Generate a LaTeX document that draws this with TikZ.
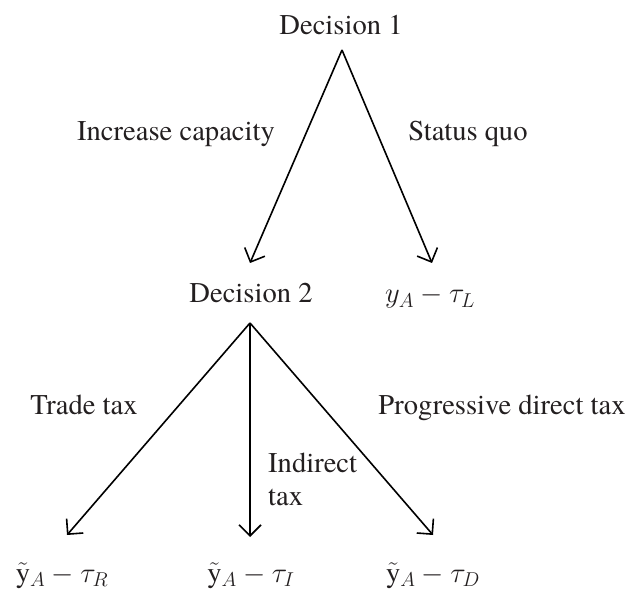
\RequirePackage{fix-cm}
\documentclass[tikz,border=0pt]{standalone}
\usepackage{fontspec}
\setmainfont{texgyretermes}[Extension=.otf, UprightFont=*-regular, ItalicFont=*-italic, BoldFont=*-bold, BoldItalicFont=*-bolditalic]
\usetikzlibrary{arrows.meta}
\definecolor{txt}{RGB}{35,31,32}
\tikzset{
  lbl/.style={inner sep=0pt, text=txt, font=\fontsize{28.6}{33}\selectfont, anchor=base},
  arr/.style={line width=1.6pt, draw=black, -{Straight Barb[length=11pt,width=22pt,line width=1.6pt]}}
}
\begin{document}
\begin{tikzpicture}[x=1pt,y=-1pt]
\useasboundingbox (0,0) rectangle (632,593);
% top level
\node[lbl] (d1) at (341,35) {Decision 1};
\coordinate (a1) at (342,50);
\coordinate (t1) at (250,263);
\coordinate (t2) at (432,263);
\draw[arr] (a1) -- (t1);
\draw[arr] (a1) -- (t2);
\node[lbl] (inc) at (176,141) {Increase capacity};
\node[lbl] (sq) at (468,141) {Status quo};
% second level
\node[lbl] (d2) at (251,303) {Decision 2};
\node[lbl, anchor=base west] (yl) at (385,303) {$y_A-\tau_L$};
\coordinate (a2) at (250,323);
\coordinate (b1) at (67,535);
\coordinate (b2) at (250,537);
\coordinate (b3) at (433,535);
\draw[arr] (a2) -- (b1);
\draw[arr] (a2) -- (b2);
\draw[arr] (a2) -- (b3);
\node[lbl] (tt) at (84,415) {Trade tax};
\node[lbl, anchor=base west] (it1) at (268,472) {Indirect};
\node[lbl, anchor=base west] (it2) at (268,505) {tax};
\node[lbl] (pd) at (502,415) {Progressive direct tax};
% outcomes
\node[lbl] (oR) at (62,582) {$\tilde{\mathrm{y}}_A-\tau_R$};
\node[lbl] (oI) at (251,582) {$\tilde{\mathrm{y}}_A-\tau_I$};
\node[lbl] (oD) at (433,582) {$\tilde{\mathrm{y}}_A-\tau_D$};
\end{tikzpicture}
\end{document}
